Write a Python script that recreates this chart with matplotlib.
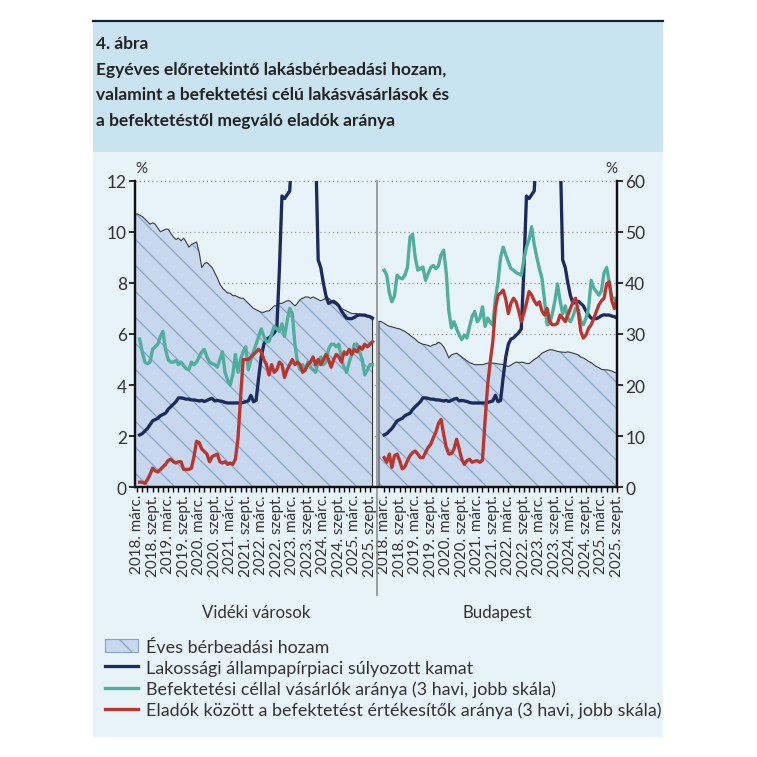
import numpy as np
import matplotlib
matplotlib.use("Agg")
import matplotlib.pyplot as plt
import matplotlib.transforms as mtransforms
from matplotlib.patches import Rectangle, Patch
from matplotlib.lines import Line2D

# ---------------- data ----------------
panels = ["Vidéki városok", "Budapest"]
tick_labels = ["2018. márc.", "2018. szept.", "2019. márc.", "2019. szept.",
               "2020. márc.", "2020. szept.", "2021. márc.", "2021. szept.",
               "2022. márc.", "2022. szept.", "2023. márc.", "2023. szept.",
               "2024. márc.", "2024. szept.", "2025. márc.", "2025. szept."]

# Éves bérbeadási hozam (%), monthly from 2018 jan. (left scale)
yield_videk = [10.7, 10.7, 10.65, 10.6, 10.5, 10.4, 10.3, 10.35, 10.3, 10.15, 10.0,
               10.05, 10.1, 10.1, 9.95, 9.8, 9.7, 9.75, 9.65, 9.75, 9.6,
               9.4, 9.5, 9.55, 9.6, 9.2, 8.6, 8.75, 8.8, 8.7, 8.6,
               8.4, 8.2, 7.95, 7.8, 7.7, 7.6, 7.6, 7.5, 7.5, 7.45,
               7.4, 7.4, 7.3, 7.2, 7.1, 7.0, 6.95, 6.9, 6.85, 6.85,
               6.9, 6.9, 7.0, 7.1, 7.1, 7.2, 7.2, 7.25, 7.3, 7.3,
               7.2, 7.1, 7.2, 7.35, 7.4, 7.45, 7.45, 7.4, 7.45, 7.4,
               7.35, 7.3, 7.35, 7.4, 7.4, 7.3, 7.2, 7.15, 7.1, 7.0,
               6.95, 6.9, 6.85, 6.8, 6.8, 6.8, 6.75, 6.75, 6.7, 6.7,
               6.65, 6.6]
yield_bp = [6.5, 6.48,
            6.42, 6.35, 6.3, 6.28, 6.25, 6.22, 6.2, 6.15, 6.1, 6.03,
            5.95, 5.87, 5.8, 5.7, 5.64, 5.6, 5.58, 5.55, 5.52, 5.58,
            5.6, 5.68, 5.62, 5.5, 5.3, 5.06, 5.18, 5.22, 5.25, 5.18,
            5.1, 5.02, 4.95, 4.88, 4.84, 4.8, 4.8, 4.8, 4.8, 4.83,
            4.86, 4.86, 4.86, 4.85, 4.83, 4.82, 4.8, 4.76, 4.73, 4.78,
            4.85, 4.9, 4.88, 4.9, 4.88, 4.85, 4.84, 4.92, 5.0, 5.06,
            5.15, 5.25, 5.3, 5.35, 5.38, 5.38, 5.35, 5.32, 5.3, 5.29,
            5.28, 5.3, 5.28, 5.25, 5.22, 5.18, 5.1, 5.06, 5.0, 4.93,
            4.88, 4.8, 4.73, 4.68, 4.62, 4.6, 4.6, 4.58, 4.55, 4.5,
            4.47]

# Lakossági állampapírpiaci súlyozott kamat (%), monthly from 2018 márc. (left scale)
bond_rate = [2.05, 2.1, 2.2, 2.3, 2.45, 2.6, 2.65, 2.7, 2.8, 2.85,
             2.9, 3.05, 3.15, 3.25, 3.35, 3.5, 3.5, 3.48, 3.45, 3.45,
             3.42, 3.42, 3.4, 3.38, 3.4, 3.36, 3.4, 3.45, 3.48, 3.38,
             3.4, 3.38, 3.36, 3.32, 3.3, 3.3, 3.3, 3.3, 3.3, 3.3,
             3.32, 3.35, 3.38, 3.6, 3.35, 3.4, 4.3, 5.1, 5.6, 5.8,
             5.85, 5.95, 6.05, 6.2, 8.5, 11.4, 11.3, 11.45, 11.6, 13.5,
             14.2, 14.8, 15.1, 15.0, 14.7, 14.3, 14.0, 13.7, 13.4, 8.9,
             8.6, 8.0, 7.5, 7.2, 7.25, 7.28, 7.2, 7.1, 6.9, 6.75,
             6.62, 6.6, 6.6, 6.65, 6.72, 6.75, 6.74, 6.74, 6.7, 6.68,
             6.62]

# Befektetési céllal vásárlók aránya (3 havi, %, right scale)
buyers_videk = [29, 26.5, 24.5, 24.2, 24.5, 27, 27.5, 28, 29.5, 30.5,
                27, 25, 24.5, 24.5, 24.8, 24, 24.5, 23.8, 23.2, 23,
                24.5, 24, 24.5, 25.5, 26.5, 27, 25.5, 24.5, 24.2, 24,
                23.5, 25, 26.5, 22.5, 21, 20, 22, 26, 22.5, 25,
                26.5, 27.5, 23, 25, 26.5, 28, 29.5, 31, 29.5, 28.5,
                28.5, 30, 31.5, 31, 30.5, 32, 29.5, 32.5, 35, 34,
                28, 24.5, 23, 24, 23, 24.5, 23.5, 23, 22.5, 24.5,
                25.5, 24, 24.5, 27, 28, 28, 27.5, 28, 25, 23.5,
                22.5, 24.5, 26, 28, 28, 26.5, 25, 22, 23, 24,
                24]
buyers_bp = [42.5, 41.5, 38.0, 36.3, 37.5, 41.5, 41.0, 40.8, 41.5, 43.0,
             49.0, 49.5, 45.0, 42.5, 42.8, 43.1, 40.5, 41.8, 43.0, 43.4,
             42.8, 43.4, 45.5, 46.4, 42.0, 34.5, 31.2, 32.4, 31.0, 29.8,
             28.9, 29.8, 29.2, 31.5, 33.4, 34.4, 32.4, 33.1, 35.3, 31.5,
             33.1, 32.3, 31.8, 37.0, 40.2, 45.0, 47.0, 45.5, 44.1, 42.8,
             42.5, 42.0, 41.8, 41.5, 44.5, 47.0, 48.5, 51.0, 47.5, 45.0,
             42.8, 40.9, 36.5, 31.8, 32.0, 34.0, 36.5, 39.8, 36.5, 34.0,
             35.5, 33.0, 32.4, 33.5, 35.0, 34.7, 32.5, 31.8, 33.1, 35.0,
             40.5, 39.0, 38.3, 37.6, 38.5, 42.0, 43.0, 40.2, 37.0, 37.0,
             36.3]

# Eladók között a befektetést értékesítők aránya (3 havi, %, right scale)
sellers_videk = [1, 1, 0.75, 1.5, 2.5, 3.75, 3.25, 3, 3.5, 4,
                 4.5, 5.25, 5.5, 5, 4.75, 5, 5, 3.5, 3.5, 3.5,
                 3.75, 6, 9, 8.75, 7.5, 7, 6.5, 5, 6, 6.25,
                 6.5, 5, 4.75, 5, 4.5, 4.75, 4.5, 5.5, 9.5, 17.5,
                 25, 25, 25, 25.5, 26, 26.5, 27, 26.5, 25, 24,
                 22, 24, 22.5, 23, 24.5, 24, 21.5, 23, 24, 25,
                 24, 24.5, 24, 22.5, 23, 24, 24.5, 25.5, 24, 25,
                 24, 25, 26, 25, 23.5, 25, 26, 25.5, 24.5, 26.5,
                 26, 27, 26, 27, 26.5, 27.5, 27, 28, 27.5, 28,
                 28.5]
sellers_bp = [5.8, 4.9, 6.5, 3.9, 6.2, 6.5, 5.2, 3.6, 4.0, 5.2,
              6.2, 6.8, 7.1, 6.5, 5.8, 5.8, 6.8, 7.8, 8.4, 9.7,
              10.8, 12.5, 13.3, 10.4, 7.8, 6.5, 6.6, 7.5, 9.4, 7.5,
              5.5, 4.5, 5.2, 5.5, 4.9, 5.1, 5.2, 4.9, 5.3, 13.0,
              20.0, 24.6, 28.5, 35.0, 37.6, 38.0, 38.6, 36.8, 34.0, 36.0,
              37.0, 36.3, 34.5, 32.4, 34.0, 36.0, 38.3, 37.6, 36.5, 35.7,
              36.3, 34.5, 33.7, 35.0, 32.4, 31.8, 31.8, 32.1, 33.7, 33.1,
              32.4, 33.7, 35.0, 36.3, 37.0, 34.4, 30.5, 29.2, 29.8, 31.1,
              31.8, 33.0, 34.4, 35.7, 36.5, 37.0, 39.8, 40.2, 36.5, 35.0,
              37.0]

legend_labels = ["Éves bérbeadási hozam",
                 "Lakossági állampapírpiaci súlyozott kamat",
                 "Befektetési céllal vásárlók aránya (3 havi, jobb skála)",
                 "Eladók között a befektetést értékesítők aránya (3 havi, jobb skála)"]

# ---------------- style ----------------
W = H = 758
DPI = 78
PT = 72.0 / DPI  # points per pixel

PANEL = "#e8f3f9"
BAND = "#c9e4f0"
NAVY = "#1c2b5c"
TEAL = "#4fae9c"
RED = "#b9362f"
AREA = "#c6d7ee"
HATCH = "#86a0c8"
TXT = "#333333"

plt.rcParams["font.family"] = ["Lato", "DejaVu Sans"]
plt.rcParams["hatch.linewidth"] = 1.2 * PT
plt.rcParams["hatch.color"] = HATCH

fig = plt.figure(figsize=(W / DPI, H / DPI), dpi=DPI)
fig.patch.set_facecolor("white")

def fx(x):
    return x / W

def fy(y):
    return 1 - y / H

# background panel, title band, top rule
fig.add_artist(Rectangle((fx(93), fy(738)), fx(663) - fx(93), fy(23) - fy(738),
                         transform=fig.transFigure, facecolor=PANEL,
                         edgecolor="none", zorder=-5))
fig.add_artist(Rectangle((fx(93), fy(153)), fx(663) - fx(93), fy(23) - fy(153),
                         transform=fig.transFigure, facecolor=BAND,
                         edgecolor="none", zorder=-4))
fig.add_artist(Line2D([fx(93), fx(663)], [fy(22), fy(22)], color="#14213a",
                      lw=2.2 * PT, transform=fig.transFigure, zorder=-3))

# title
fig.text(fx(96), fy(44), "4. ábra", fontsize=16, fontweight="bold",
         color="#222222", va="center", ha="left")
title_lines = ["Egyéves előretekintő lakásbérbeadási hozam,",
               "valamint a befektetési célú lakásvásárlások és",
               "a befektetéstől megváló eladók aránya"]
for i, t in enumerate(title_lines):
    fig.text(fx(96), fy(70 + 25.5 * i), t, fontsize=16, fontweight="bold",
             color="#222222", va="center", ha="left")

# ---------------- axes ----------------
ax = fig.add_axes([fx(135), fy(488.3), fx(617) - fx(135), fy(181.7) - fy(488.3)])
ax.patch.set_visible(False)
ax2 = ax.twinx()

LEFT_OFF = 1.0
RIGHT_OFF = 95.5
DIVIDER = 92.8

m_lines = np.arange(len(bond_rate))
m_yield = np.arange(-2, len(yield_bp) - 2)

ax.set_xlim(-0.8, RIGHT_OFF + 90)
ax.set_ylim(0, 12)
ax2.set_ylim(0, 60)

# grid
for g in range(2, 13, 2):
    ax.axhline(g, color="#9a9a9a", lw=1.2 * PT, ls=(0, (1, 2.5)), zorder=0.5)

for off, yv in ((LEFT_OFF, yield_videk), (RIGHT_OFF, yield_bp)):
    xs = m_yield + off
    ys = np.array(yv)
    ax.fill_between(xs, 0, ys, facecolor=AREA, edgecolor=HATCH, hatch="\\",
                    linewidth=0, zorder=1)
    ax.plot(np.r_[xs[0], xs, xs[-1]], np.r_[0, ys, 0], color="#3a3a3a",
            lw=1.1 * PT, zorder=1.5)

LW = 3.3 * PT
for off in (LEFT_OFF, RIGHT_OFF):
    ax.plot(m_lines + off, bond_rate, color=NAVY, lw=LW, zorder=3,
            solid_joinstyle="round")

ax2.plot(m_lines + LEFT_OFF, buyers_videk, color=TEAL, lw=LW, solid_joinstyle="round")
ax2.plot(m_lines + RIGHT_OFF, buyers_bp, color=TEAL, lw=LW, solid_joinstyle="round")
ax2.plot(m_lines + LEFT_OFF, sellers_videk, color=RED, lw=LW, solid_joinstyle="round")
ax2.plot(m_lines + RIGHT_OFF, sellers_bp, color=RED, lw=LW, solid_joinstyle="round")

# divider
trans = mtransforms.blended_transform_factory(ax.transData, ax.transAxes)
ax.plot([DIVIDER, DIVIDER], [-0.35, 1.0], transform=trans, color="#8c8c8c",
        lw=1.6 * PT, clip_on=False, zorder=4)

# spines
for a in (ax, ax2):
    a.spines["top"].set_visible(False)
    for s in ("left", "right", "bottom"):
        a.spines[s].set_linewidth(2.2 * PT)
        a.spines[s].set_color("#111111")

ax.set_yticks(range(0, 13, 2))
ax.tick_params(axis="y", direction="out", length=6 * PT, width=1.6 * PT,
               labelsize=16, labelcolor=TXT, pad=2)
ax2.set_yticks(range(0, 61, 10))
ax2.tick_params(axis="y", direction="out", length=6 * PT, width=1.6 * PT,
                labelsize=16, labelcolor=TXT, pad=2)

label_pos = np.r_[np.arange(0, 91, 6), np.arange(0, 91, 6) + RIGHT_OFF]
minor_pos = np.r_[np.arange(0, 91, 2), np.arange(0, 91, 2) + RIGHT_OFF]
ax.set_xticks(label_pos)
ax.set_xticklabels(tick_labels + tick_labels, rotation=90, fontsize=14, color=TXT)
ax.set_xticks(minor_pos, minor=True)
ax.tick_params(axis="x", which="both", direction="out", length=5 * PT,
               width=1.4 * PT, pad=1.5)
ax2.tick_params(axis="x", which="both", bottom=False)

fig.text(fx(141), fy(169), "%", fontsize=14, color=TXT, ha="center", va="center")
fig.text(fx(611), fy(169), "%", fontsize=14, color=TXT, ha="center", va="center")

fig.text(fx(256), fy(613), panels[0], fontsize=15.5, color=TXT, ha="center", va="center")
fig.text(fx(497), fy(613), panels[1], fontsize=15.5, color=TXT, ha="center", va="center")

handles = [Patch(facecolor=AREA, edgecolor=HATCH, hatch="\\", linewidth=1.0),
           Line2D([], [], color=NAVY, lw=LW),
           Line2D([], [], color=TEAL, lw=LW),
           Line2D([], [], color=RED, lw=LW)]
leg = fig.legend(handles, legend_labels, loc="upper left",
                 bbox_to_anchor=(fx(105), fy(640)), frameon=False,
                 fontsize=16.5, handlelength=1.85, handletextpad=0.45,
                 labelspacing=0.26, borderpad=0, borderaxespad=0)
for t in leg.get_texts():
    t.set_color(TXT)

fig.savefig("out.png", dpi=DPI, facecolor="white")
